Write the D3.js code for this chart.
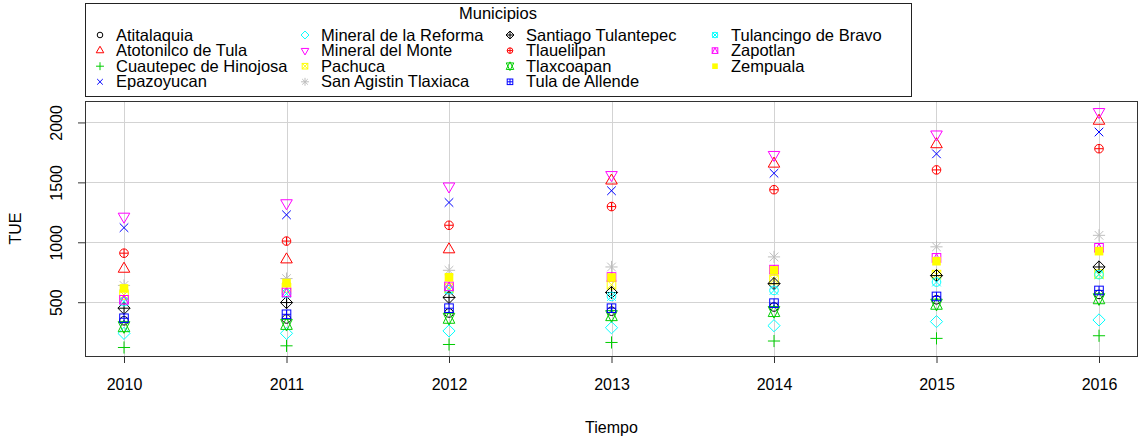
<!doctype html>
<html lang="es">
<head>
<meta charset="utf-8">
<title>TUE por municipio</title>
<style>
html, body {
	margin: 0;
	padding: 0;
	background: #fff;
}
svg {
	display: block;
	font-family: 'Liberation Sans', Arial, sans-serif;
}
svg text {
	fill: #000;
}
</style>
</head>
<body>
<div id="chart"></div>
<script src="https://cdnjs.cloudflare.com/ajax/libs/d3/7.8.5/d3.min.js"></script>
<script>
/* DATA */

var years = [2010, 2011, 2012, 2013, 2014, 2015, 2016];

var municipios = [
	'Atitalaquia', 'Atotonilco de Tula', 'Cuautepec de Hinojosa', 'Epazoyucan',
	'Mineral de la Reforma', 'Mineral del Monte', 'Pachuca', 'San Agistin Tlaxiaca',
	'Santiago Tulantepec', 'Tlauelilpan', 'Tlaxcoapan', 'Tula de Allende',
	'Tulancingo de Bravo', 'Zapotlan', 'Zempuala'
];

var atitalaquia = [345, 360, 410, 425, 460, 520, 565];
var atotonilco = [778, 856, 940, 1514, 1655, 1817, 2013];
var cuautepec = [122, 136, 147, 164, 176, 198, 220];
var epazoyucan = [1122, 1229, 1332, 1430, 1576, 1738, 1920];
var mineralReforma = [240, 240, 260, 287, 304, 338, 352];
var mineralMonte = [1215, 1327, 1467, 1562, 1730, 1901, 2088];
var pachuca = [560, 620, 618, 646, 688, 730, 735];
var sanAgistin = [640, 697, 766, 794, 878, 962, 1058];
var santiago = [450, 497, 540, 581, 655, 722, 794];
var tlauelilpan = [909, 1010, 1142, 1298, 1439, 1604, 1781];
var tlaxcoapan = [296, 315, 366, 388, 422, 483, 529];
var tulaAllende = [366, 399, 450, 450, 492, 548, 598];
var tulancingo = [505, 572, 604, 548, 598, 668, 730];
var zapotlan = [520, 581, 632, 710, 772, 870, 954];
var zempuala = [615, 660, 708, 706, 766, 842, 926];

var yTicks = [500, 1000, 1500, 2000];

(function chart(d3) {

	'use strict';

	/* CONST */

	var W = 1139;
	var H = 437;
	var LEFT = 85;
	var RIGHT = 1138;
	var TOP = 101;
	var BOTTOM = 356;
	var FS = 16;

	// R's default palette, recycled over the 15 series, pch 1..15
	var palette = ['#000000', '#FF0000', '#00CD00', '#0000FF', '#00FFFF', '#FF00FF', '#FFFF00', '#BEBEBE'];

	var series = [atitalaquia, atotonilco, cuautepec, epazoyucan, mineralReforma,
		mineralMonte, pachuca, sanAgistin, santiago, tlauelilpan, tlaxcoapan,
		tulaAllende, tulancingo, zapotlan, zempuala];

	var TRC0 = Math.sqrt(4 * Math.PI / (3 * Math.sqrt(3)));
	var TRC1 = TRC0 * Math.sqrt(3) / 2;
	var TRC2 = TRC0 / 2;
	var SQ2 = Math.SQRT2;


	/* SYMBOLS */

	var line = function (g, x1, y1, x2, y2) {
		g.append('line').attr('x1', x1).attr('y1', y1).attr('x2', x2).attr('y2', y2);
	};

	var poly = function (g, pts) {
		g.append('polygon').attr('points', pts.map(function (p) { return p.join(','); }).join(' '));
	};

	var square = function (g, s) {
		return g.append('rect').attr('x', -s).attr('y', -s).attr('width', 2 * s).attr('height', 2 * s);
	};

	var symbol = function (g, pch, s, col) {
		g.attr('stroke', col).attr('fill', 'none').attr('stroke-width', 1);
		var d = SQ2 * s;
		switch (pch) {
		case 1:
			g.append('circle').attr('r', s);
			break;
		case 2:
			poly(g, [[0, -TRC0 * s], [TRC1 * s, TRC2 * s], [-TRC1 * s, TRC2 * s]]);
			break;
		case 3:
			line(g, -d, 0, d, 0);
			line(g, 0, -d, 0, d);
			break;
		case 4:
			line(g, -s, -s, s, s);
			line(g, -s, s, s, -s);
			break;
		case 5:
			poly(g, [[0, -d], [d, 0], [0, d], [-d, 0]]);
			break;
		case 6:
			poly(g, [[0, TRC0 * s], [TRC1 * s, -TRC2 * s], [-TRC1 * s, -TRC2 * s]]);
			break;
		case 7:
			square(g, s);
			line(g, -s, -s, s, s);
			line(g, -s, s, s, -s);
			break;
		case 8:
			line(g, -s, -s, s, s);
			line(g, -s, s, s, -s);
			line(g, -d, 0, d, 0);
			line(g, 0, -d, 0, d);
			break;
		case 9:
			poly(g, [[0, -d], [d, 0], [0, d], [-d, 0]]);
			line(g, -d, 0, d, 0);
			line(g, 0, -d, 0, d);
			break;
		case 10:
			g.append('circle').attr('r', s);
			line(g, -s, 0, s, 0);
			line(g, 0, -s, 0, s);
			break;
		case 11:
			var r = TRC0 * s;
			var yc = 0.5 * (TRC2 * s + r);
			var xc = TRC1 * s;
			poly(g, [[0, -r], [xc, yc], [-xc, yc]]);
			poly(g, [[0, r], [xc, -yc], [-xc, -yc]]);
			break;
		case 12:
			square(g, s);
			line(g, -s, 0, s, 0);
			line(g, 0, -s, 0, s);
			break;
		case 13:
			g.append('circle').attr('r', s);
			line(g, -s, -s, s, s);
			line(g, -s, s, s, -s);
			break;
		case 14:
			square(g, s);
			g.append('polyline').attr('points', [-s, s, 0, -s, s, s].join(','));
			break;
		case 15:
			square(g, s).attr('fill', col).attr('stroke', 'none');
			break;
		}
	};


	/* RENDER */

	var svg = d3.select('#chart').append('svg')
		.attr('width', W)
		.attr('height', H);

	var x = d3.scaleLinear()
		.domain([years[0] - 0.24, years[years.length - 1] + 0.24])
		.range([LEFT, RIGHT]);

	var y = d3.scaleLinear()
		.domain([51, 2179])
		.range([BOTTOM, TOP]);

	// grid
	var grid = svg.append('g').attr('stroke', '#D3D3D3').attr('stroke-width', 1);
	years.forEach(function (yr) {
		grid.append('line')
			.attr('x1', Math.round(x(yr)) + 0.5).attr('x2', Math.round(x(yr)) + 0.5)
			.attr('y1', TOP).attr('y2', BOTTOM);
	});
	yTicks.forEach(function (t) {
		grid.append('line')
			.attr('x1', LEFT).attr('x2', RIGHT)
			.attr('y1', Math.round(y(t)) + 0.5).attr('y2', Math.round(y(t)) + 0.5);
	});

	// points, series by series like R's points()
	series.forEach(function (vals, i) {
		var col = palette[i % palette.length];
		vals.forEach(function (v, j) {
			var g = svg.append('g')
				.attr('transform', 'translate(' + x(years[j]) + ',' + y(v) + ')');
			symbol(g, i + 1, 4.3, col);
		});
	});

	// axes
	var xAxis = svg.append('g')
		.attr('transform', 'translate(0,' + BOTTOM + ')')
		.call(d3.axisBottom(x).tickValues(years).tickFormat(d3.format('d')).tickSize(7));
	xAxis.selectAll('text')
		.attr('y', 23)
		.attr('font-size', FS);

	var yAxis = svg.append('g')
		.attr('transform', 'translate(' + LEFT + ',0)')
		.call(d3.axisLeft(y).tickValues(yTicks).tickFormat(d3.format('d')).tickSize(7));
	yAxis.selectAll('text')
		.attr('x', 0)
		.attr('dy', 0)
		.attr('text-anchor', 'middle')
		.attr('transform', 'translate(-23,0) rotate(-90)')
		.attr('font-size', FS);

	[xAxis, yAxis].forEach(function (a) {
		a.select('.domain').remove();
		a.selectAll('line').attr('stroke', '#333');
		a.attr('font-family', null).attr('font-size', null);
	});

	// box
	svg.append('rect')
		.attr('x', LEFT + 0.5).attr('y', TOP + 0.5)
		.attr('width', RIGHT - LEFT - 1).attr('height', BOTTOM - TOP)
		.attr('fill', 'none').attr('stroke', '#333');

	// axis titles
	svg.append('text')
		.attr('x', (LEFT + RIGHT) / 2).attr('y', 433)
		.attr('text-anchor', 'middle').attr('font-size', FS)
		.text('Tiempo');
	svg.append('text')
		.attr('transform', 'translate(21,' + (TOP + BOTTOM) / 2 + ') rotate(-90)')
		.attr('text-anchor', 'middle').attr('font-size', FS)
		.text('TUE');

	// legend
	var lg = svg.append('g');
	lg.append('rect')
		.attr('x', 85.5).attr('y', 3.5).attr('width', 826).attr('height', 93)
		.attr('fill', '#fff').attr('stroke', '#222');
	lg.append('text')
		.attr('x', 498).attr('y', 19)
		.attr('text-anchor', 'middle').attr('font-size', 16.5)
		.text('Municipios');
	municipios.forEach(function (name, i) {
		var c = Math.floor(i / 4);
		var r = i % 4;
		var sx = 100 + c * 205;
		var sy = 35 + r * 15.6;
		symbol(lg.append('g').attr('transform', 'translate(' + sx + ',' + sy + ')'),
			i + 1, 2.8, palette[i % palette.length]);
		lg.append('text')
			.attr('x', sx + 16).attr('y', sy + 5.5)
			.attr('font-size', 16.5)
			.text(name);
	});

})(window.d3);
</script>
</body>
</html>
